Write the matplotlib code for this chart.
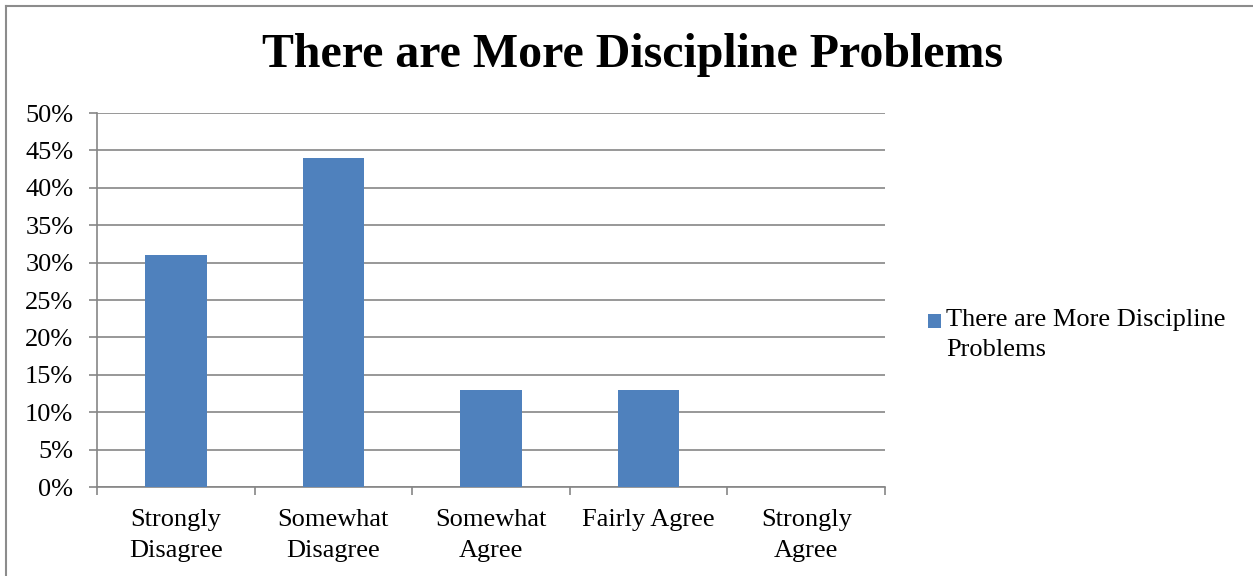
import matplotlib
matplotlib.use("Agg")
import numpy as np
from matplotlib import pyplot as plt
from matplotlib.container import BarContainer
from matplotlib.legend_handler import HandlerPatch, update_from_first_child
from matplotlib.lines import Line2D
from matplotlib.patches import Rectangle
from matplotlib.ticker import FixedLocator


TITLE = "There are More Discipline Problems"
SERIES = "There are More Discipline\nProblems"
categories = ["Strongly\nDisagree", "Somewhat\nDisagree", "Somewhat\nAgree",
              "Fairly Agree", "Strongly\nAgree"]
values = [31, 44, 13, 13, 0]
yticks = [0, 5, 10, 15, 20, 25, 30, 35, 40, 45, 50]

BAR = "#4F81BD"
GRID = "#868686"
FS = 19

plt.rcParams["font.family"] = ["Liberation Serif", "DejaVu Serif"]

fig = plt.figure(figsize=(12.53, 5.76), dpi=100)
ax = fig.add_axes([0.0774, 0.1545, 0.6289, 0.6493])

x = np.arange(len(categories))
ax.bar(x, values, width=0.39, color=BAR, zorder=3, label=SERIES)

ax.set_xlim(-0.5, len(categories) - 0.5)
ax.set_ylim(0, 50)

# y axis: gridlines at every 5%, outward ticks
ax.set_yticks(yticks)
ax.set_yticklabels([f"{v}%" for v in yticks])
ax.yaxis.grid(True, color=GRID, linewidth=1.2, zorder=0)
ax.tick_params(axis="y", direction="out", length=6, width=1.2, color=GRID,
               pad=11, labelsize=FS)

# x axis: tick marks between categories, labels centred without marks
ax.set_xticks(x)
ax.set_xticklabels(categories, linespacing=1.5)
ax.xaxis.set_minor_locator(FixedLocator(np.arange(-0.5, len(categories), 1.0)))
ax.tick_params(axis="x", which="major", length=0, pad=16, labelsize=FS)
ax.tick_params(axis="x", which="minor", direction="out", length=6, width=1.2,
               color=GRID)

for side in ("top", "right"):
    ax.spines[side].set_visible(False)
for side in ("left", "bottom"):
    ax.spines[side].set_color(GRID)
    ax.spines[side].set_linewidth(1.2)

fig.suptitle(TITLE, fontsize=34.5, fontweight="bold", x=0.505,
             y=1 - 55 / 576, va="center")


def square_on_first_line(legend, orig_handle, xdescent, ydescent,
                         width, height, fontsize):
    side = 0.5 * fontsize
    return Rectangle((-xdescent, -ydescent + height - side - 0.05 * fontsize),
                     side, side)


leg = fig.legend(loc="center left", bbox_to_anchor=(928 / 1253, 1 - 335 / 576),
                 frameon=False, fontsize=FS, handlelength=0.5, handleheight=2.2,
                 handletextpad=0.2, borderpad=0, borderaxespad=0,
                 handler_map={BarContainer: HandlerPatch(
                     patch_func=square_on_first_line,
                     update_func=update_from_first_child)})
for t in leg.get_texts():
    t.set_linespacing(1.5)

# chart frame
fig.add_artist(Line2D([6 / 1253, 1], [1 - 6 / 576, 1 - 6 / 576],
                      color="#8C8C8C", linewidth=1.5, transform=fig.transFigure))
fig.add_artist(Line2D([6 / 1253, 6 / 1253], [0, 1 - 6 / 576],
                      color="#8C8C8C", linewidth=1.5, transform=fig.transFigure))

fig.savefig("out.png", dpi=100)
